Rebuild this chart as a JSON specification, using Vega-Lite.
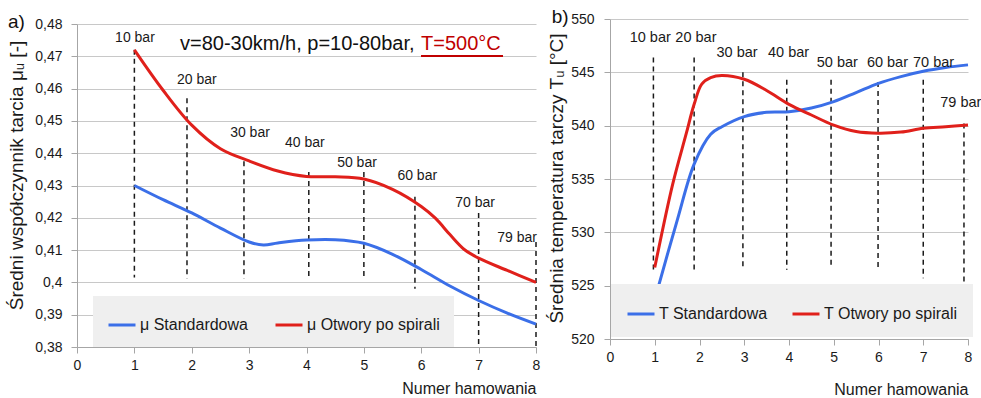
{
  "$schema": "https://vega.github.io/schema/vega-lite/v6.json",
  "background": "white",
  "autosize": {"type": "pad"},
  "padding": {"left": 7, "top": 7, "right": 0, "bottom": 0},
  "bounds": "flush",
  "spacing": 74,
  "resolve": {"scale": {"color": "independent", "x": "independent", "y": "independent"}, "legend": {"color": "independent"}},
  "config": {
    "font": "Liberation Sans",
    "view": {"stroke": null},
    "axis": {"domainColor": "#a6a6a6", "tickColor": "#a6a6a6", "gridColor": "#c8c8c8", "labelColor": "#1a1a1a", "titleColor": "#1a1a1a", "labelFontSize": 14, "titleFontWeight": "normal", "labelFont": "Liberation Sans", "titleFont": "Liberation Sans", "labelFlush": false}
  },
  "datasets": {
    "mu": [
      {"series": "μ Standardowa", "x": 1, "y": 0.430},
      {"series": "μ Standardowa", "x": 1.5, "y": 0.4256},
      {"series": "μ Standardowa", "x": 2, "y": 0.4215},
      {"series": "μ Standardowa", "x": 2.5, "y": 0.4168},
      {"series": "μ Standardowa", "x": 3, "y": 0.4125},
      {"series": "μ Standardowa", "x": 3.25, "y": 0.4116},
      {"series": "μ Standardowa", "x": 3.5, "y": 0.4122},
      {"series": "μ Standardowa", "x": 4, "y": 0.4131},
      {"series": "μ Standardowa", "x": 4.5, "y": 0.4132},
      {"series": "μ Standardowa", "x": 5, "y": 0.4121},
      {"series": "μ Standardowa", "x": 5.5, "y": 0.4087},
      {"series": "μ Standardowa", "x": 6, "y": 0.4040},
      {"series": "μ Standardowa", "x": 6.5, "y": 0.3989},
      {"series": "μ Standardowa", "x": 7, "y": 0.3944},
      {"series": "μ Standardowa", "x": 7.5, "y": 0.3905},
      {"series": "μ Standardowa", "x": 8, "y": 0.3871},
      {"series": "μ Otwory po spirali", "x": 1, "y": 0.472},
      {"series": "μ Otwory po spirali", "x": 1.5, "y": 0.4595},
      {"series": "μ Otwory po spirali", "x": 2, "y": 0.4487},
      {"series": "μ Otwory po spirali", "x": 2.5, "y": 0.4414},
      {"series": "μ Otwory po spirali", "x": 3, "y": 0.4376},
      {"series": "μ Otwory po spirali", "x": 3.5, "y": 0.4345},
      {"series": "μ Otwory po spirali", "x": 4, "y": 0.4328},
      {"series": "μ Otwory po spirali", "x": 4.5, "y": 0.4327},
      {"series": "μ Otwory po spirali", "x": 5, "y": 0.4320},
      {"series": "μ Otwory po spirali", "x": 5.5, "y": 0.4288},
      {"series": "μ Otwory po spirali", "x": 6, "y": 0.4235},
      {"series": "μ Otwory po spirali", "x": 6.25, "y": 0.4198},
      {"series": "μ Otwory po spirali", "x": 6.5, "y": 0.4148},
      {"series": "μ Otwory po spirali", "x": 6.75, "y": 0.4102},
      {"series": "μ Otwory po spirali", "x": 7, "y": 0.4075},
      {"series": "μ Otwory po spirali", "x": 7.5, "y": 0.4037},
      {"series": "μ Otwory po spirali", "x": 8, "y": 0.400}
    ],
    "muRules": [
      {"x": 1, "y": 0.472, "y2": 0.4015},
      {"x": 1.917, "y": 0.457, "y2": 0.4012},
      {"x": 2.91, "y": 0.4375, "y2": 0.4012},
      {"x": 4.04, "y": 0.4342, "y2": 0.4013},
      {"x": 5.0, "y": 0.4342, "y2": 0.401},
      {"x": 5.89, "y": 0.4265, "y2": 0.398},
      {"x": 7.0, "y": 0.4215, "y2": 0.3805},
      {"x": 8.0, "y": 0.4125, "y2": 0.38}
    ],
    "muLabels": [
      {"x": 1.01, "y": 0.4757, "label": "10 bar"},
      {"x": 2.09, "y": 0.4627, "label": "20 bar"},
      {"x": 3.015, "y": 0.4463, "label": "30 bar"},
      {"x": 3.97, "y": 0.4432, "label": "40 bar"},
      {"x": 4.88, "y": 0.437, "label": "50 bar"},
      {"x": 5.93, "y": 0.4329, "label": "60 bar"},
      {"x": 6.94, "y": 0.4246, "label": "70 bar"},
      {"x": 7.67, "y": 0.4138, "label": "79 bar"}
    ],
    "T": [
      {"series": "T Standardowa", "x": 1, "y": 523.7},
      {"series": "T Standardowa", "x": 1.5, "y": 531.1},
      {"series": "T Standardowa", "x": 1.88, "y": 536.4},
      {"series": "T Standardowa", "x": 2.25, "y": 539.2},
      {"series": "T Standardowa", "x": 2.5, "y": 539.9},
      {"series": "T Standardowa", "x": 3, "y": 540.85},
      {"series": "T Standardowa", "x": 3.5, "y": 541.25},
      {"series": "T Standardowa", "x": 4, "y": 541.3},
      {"series": "T Standardowa", "x": 4.5, "y": 541.65},
      {"series": "T Standardowa", "x": 5, "y": 542.25},
      {"series": "T Standardowa", "x": 5.5, "y": 543.1},
      {"series": "T Standardowa", "x": 6, "y": 543.97},
      {"series": "T Standardowa", "x": 6.5, "y": 544.6},
      {"series": "T Standardowa", "x": 7, "y": 545.1},
      {"series": "T Standardowa", "x": 7.5, "y": 545.45},
      {"series": "T Standardowa", "x": 8, "y": 545.7},
      {"series": "T Otwory po spirali", "x": 1, "y": 526.7},
      {"series": "T Otwory po spirali", "x": 1.4, "y": 534.5},
      {"series": "T Otwory po spirali", "x": 1.7, "y": 539.2},
      {"series": "T Otwory po spirali", "x": 1.88, "y": 542.0},
      {"series": "T Otwory po spirali", "x": 2.05, "y": 543.9},
      {"series": "T Otwory po spirali", "x": 2.25, "y": 544.5},
      {"series": "T Otwory po spirali", "x": 2.5, "y": 544.7},
      {"series": "T Otwory po spirali", "x": 3, "y": 544.35},
      {"series": "T Otwory po spirali", "x": 3.5, "y": 543.3},
      {"series": "T Otwory po spirali", "x": 4, "y": 542.0},
      {"series": "T Otwory po spirali", "x": 4.5, "y": 541.0},
      {"series": "T Otwory po spirali", "x": 5, "y": 540.05},
      {"series": "T Otwory po spirali", "x": 5.5, "y": 539.45},
      {"series": "T Otwory po spirali", "x": 6, "y": 539.3},
      {"series": "T Otwory po spirali", "x": 6.5, "y": 539.4},
      {"series": "T Otwory po spirali", "x": 7, "y": 539.75},
      {"series": "T Otwory po spirali", "x": 7.5, "y": 539.9},
      {"series": "T Otwory po spirali", "x": 8, "y": 540.06}
    ],
    "TRules": [
      {"x": 0.97, "y": 546.4, "y2": 526.5},
      {"x": 1.88, "y": 546.4, "y2": 526.5},
      {"x": 2.97, "y": 545.0, "y2": 526.5},
      {"x": 3.95, "y": 544.3, "y2": 526.5},
      {"x": 4.94, "y": 544.3, "y2": 526.7},
      {"x": 5.99, "y": 544.1, "y2": 526.5},
      {"x": 7.0, "y": 544.3, "y2": 525.7},
      {"x": 7.91, "y": 540.2, "y2": 525.0}
    ],
    "TLabels": [
      {"x": 0.9, "y": 548.2, "label": "10 bar"},
      {"x": 1.92, "y": 548.2, "label": "20 bar"},
      {"x": 2.84, "y": 546.8, "label": "30 bar"},
      {"x": 3.99, "y": 546.8, "label": "40 bar"},
      {"x": 5.08, "y": 545.9, "label": "50 bar"},
      {"x": 6.2, "y": 545.9, "label": "60 bar"},
      {"x": 7.23, "y": 545.9, "label": "70 bar"},
      {"x": 7.84, "y": 542.1, "label": "79 bar"}
    ]
  },
  "hconcat": [
    {
      "width": 459,
      "height": 328,
      "encoding": {
        "x": {"field": "x", "type": "quantitative",
          "scale": {"domain": [0, 8], "nice": false, "zero": false},
          "axis": {"values": [0, 1, 2, 3, 4, 5, 6, 7, 8], "grid": false, "tickSize": 6, "labelPadding": 5, "title": "Numer hamowania", "titleFontSize": 16, "titleX": 459, "titleY": 46, "titleAlign": "right", "titleBaseline": "alphabetic", "titleAngle": 0}},
        "y": {"field": "y", "type": "quantitative",
          "scale": {"domain": [0.38, 0.48], "range": [328, 5], "nice": false, "zero": false},
          "axis": {"values": [0.38, 0.39, 0.4, 0.41, 0.42, 0.43, 0.44, 0.45, 0.46, 0.47, 0.48], "grid": true, "tickSize": 6, "labelPadding": 9,
            "labelExpr": "replace(format(datum.value, '.2~f'), '.', ',')",
            "title": "Średni współczynnik tarcia μᵤ [-]", "titleFontSize": 19, "titleX": -61, "titleY": 156, "titleAngle": -90, "titleAlign": "center", "titleBaseline": "middle"}}
      },
      "layer": [
        {
          "data": {"name": "muRules"},
          "mark": {"type": "rule", "strokeDash": [5, 4], "color": "#1a1a1a", "strokeWidth": 1.5},
          "encoding": {"y2": {"field": "y2"}}
        },
        {
          "data": {"name": "mu"},
          "mark": {"type": "line", "interpolate": "catmull-rom", "strokeWidth": 3},
          "encoding": {
            "color": {"field": "series", "type": "nominal",
              "scale": {"domain": ["μ Standardowa", "μ Otwory po spirali"], "range": ["#3b6fe8", "#e0201b"]},
              "legend": {"orient": "none", "legendX": 16, "legendY": 277, "direction": "horizontal", "title": null, "fillColor": "#efefef", "padding": 14, "symbolType": "stroke", "symbolSize": 729, "symbolStrokeWidth": 3, "labelFontSize": 16, "labelOffset": 3, "columnPadding": 21, "labelColor": "#1a1a1a", "labelLimit": 300}}
          }
        },
        {
          "data": {"name": "muLabels"},
          "mark": {"type": "text", "fontSize": 14, "align": "center", "baseline": "middle", "color": "#1a1a1a"},
          "encoding": {"text": {"field": "label"}}
        },
        {
          "data": {"values": [{"x": 1.795, "y": 0.47195, "note": "v=80-30km/h, p=10-80bar,"}]},
          "mark": {"type": "text", "fontSize": 20, "align": "left", "baseline": "alphabetic", "color": "#111111"},
          "encoding": {"text": {"field": "note"}}
        },
        {
          "data": {"values": [{"x": 5.996, "y": 0.47195, "note": "T=500°C"}]},
          "mark": {"type": "text", "fontSize": 20, "align": "left", "baseline": "alphabetic", "color": "#c00000"},
          "encoding": {"text": {"field": "note"}}
        },
        {
          "data": {"values": [{"x": 5.996, "x2": 7.425, "y": 0.4701}]},
          "mark": {"type": "rule", "color": "#c00000", "strokeWidth": 2},
          "encoding": {"x2": {"field": "x2"}}
        },
        {
          "data": {"values": [{"x": -1.2026, "y": 0.47876, "note": "a)"}]},
          "mark": {"type": "text", "fontSize": 19, "align": "left", "baseline": "alphabetic", "color": "#111111"},
          "encoding": {"text": {"field": "note"}}
        }
      ]
    },
    {
      "width": 358,
      "height": 320,
      "encoding": {
        "x": {"field": "x", "type": "quantitative",
          "scale": {"domain": [0, 8], "nice": false, "zero": false},
          "axis": {"values": [0, 1, 2, 3, 4, 5, 6, 7, 8], "grid": false, "tickSize": 6, "labelPadding": 5, "title": "Numer hamowania", "titleFontSize": 16, "titleX": 358, "titleY": 55, "titleAlign": "right", "titleBaseline": "alphabetic", "titleAngle": 0}},
        "y": {"field": "y", "type": "quantitative",
          "scale": {"domain": [520, 550], "nice": false, "zero": false},
          "axis": {"values": [520, 525, 530, 535, 540, 545, 550], "grid": true, "tickSize": 6, "labelPadding": 10, "format": "d",
            "title": "Średnia temperatura tarczy Tᵤ [°C]", "titleFontSize": 19, "titleX": -54, "titleY": 159, "titleAngle": -90, "titleAlign": "center", "titleBaseline": "middle"}}
      },
      "layer": [
        {
          "data": {"name": "TRules"},
          "mark": {"type": "rule", "strokeDash": [5, 4], "color": "#1a1a1a", "strokeWidth": 1.5},
          "encoding": {"y2": {"field": "y2"}}
        },
        {
          "data": {"name": "T"},
          "mark": {"type": "line", "interpolate": "catmull-rom", "strokeWidth": 3},
          "encoding": {
            "color": {"field": "series", "type": "nominal",
              "scale": {"domain": ["T Standardowa", "T Otwory po spirali"], "range": ["#3b6fe8", "#e0201b"]},
              "legend": {"orient": "none", "legendX": 1, "legendY": 265, "direction": "horizontal", "title": null, "fillColor": "#efefef", "padding": 15, "symbolType": "stroke", "symbolSize": 729, "symbolStrokeWidth": 3, "labelFontSize": 16, "labelOffset": 3, "columnPadding": 18, "labelColor": "#1a1a1a", "labelLimit": 300}}
          }
        },
        {
          "data": {"name": "TLabels"},
          "mark": {"type": "text", "fontSize": 14.5, "align": "center", "baseline": "middle", "color": "#1a1a1a"},
          "encoding": {"text": {"field": "label"}}
        },
        {
          "data": {"values": [{"x": -1.303, "y": 549.625, "note": "b)"}]},
          "mark": {"type": "text", "fontSize": 19, "align": "left", "baseline": "alphabetic", "color": "#111111"},
          "encoding": {"text": {"field": "note"}}
        }
      ]
    }
  ]
}
